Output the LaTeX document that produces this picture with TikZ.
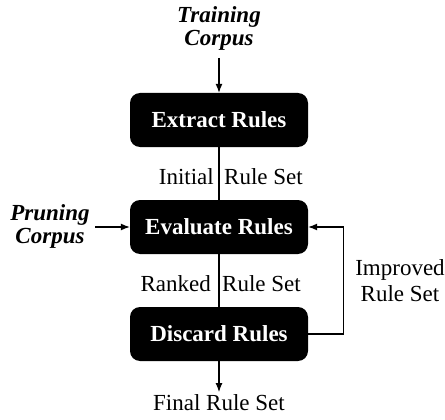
\documentclass[tikz,border=0pt]{standalone}
\usepackage{fontspec}
\setmainfont{Liberation Serif}
\usetikzlibrary{arrows.meta}
\begin{document}
\begin{tikzpicture}[x=1pt,y=1pt,
  procbox/.style={fill=black,text=white,rounded corners=10pt,minimum width=178pt,minimum height=54pt,inner sep=0pt,font=\fontsize{23}{26}\selectfont\bfseries},
  inlabel/.style={font=\fontsize{23}{26}\selectfont\bfseries\itshape,align=center,inner sep=2pt},
  plainlabel/.style={font=\fontsize{23}{26}\selectfont,align=center,inner sep=0pt},
  link/.style={line width=1.1pt},
  flow/.style={line width=1.1pt,-{Latex[length=9pt,width=7pt]}}]
\useasboundingbox (0,0) rectangle (445,-420);
\node[procbox] (ext) at (219,-120) {Extract Rules};
\node[procbox] (eva) at (219,-227) {Evaluate Rules};
\node[procbox] (dis) at (219,-334) {Discard Rules};
\node[inlabel] (train) at (219,-28) {Training\\[-3pt]Corpus};
\node[inlabel] (prun) at (50,-226) {Pruning\\[-3pt]Corpus};
\node[plainlabel] (impr) at (400,-281) {Improved\\Rule Set};
\node[plainlabel] (final) at (219,-403) {Final Rule Set};
\node[plainlabel,anchor=east] (init) at (214,-177) {Initial};
\node[plainlabel,anchor=west] (initrs) at (224,-177) {Rule Set};
\node[plainlabel,anchor=east] (rank) at (211,-284) {Ranked};
\node[plainlabel,anchor=west] (rankrs) at (222,-284) {Rule Set};
\coordinate (tstart) at (219,-58);
\coordinate (pstart) at (95,-227);
\coordinate (fend) at (219,-392);
\draw[flow] (tstart) -- (ext.north);
\draw[link] (ext.south) -- (eva.north);
\draw[link] (eva.south) -- (dis.north);
\draw[flow] (pstart) -- (eva.west);
\draw[flow] (dis.east) -- ++(35,0) |- (eva.east);
\draw[flow] (dis.south) -- (fend);
\end{tikzpicture}
\end{document}
